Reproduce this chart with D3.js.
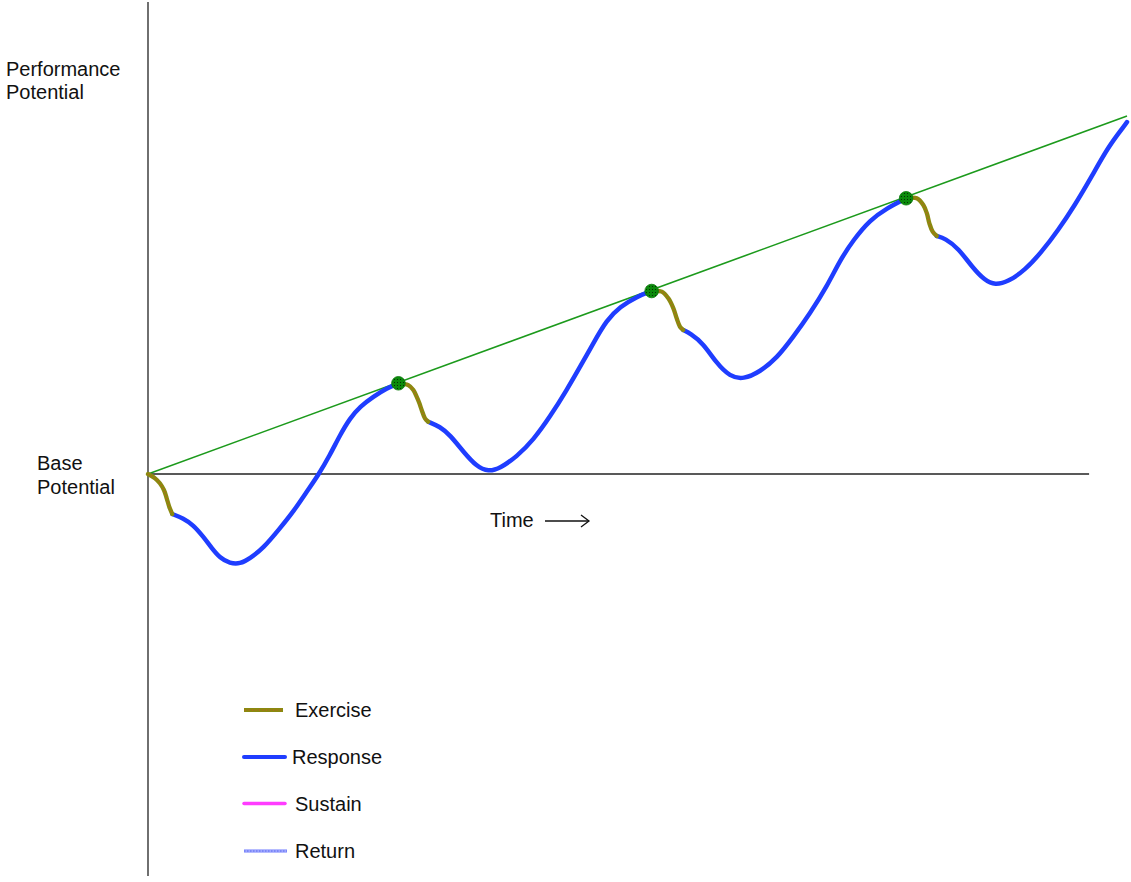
<!DOCTYPE html>
<html>
<head>
<meta charset="utf-8">
<script src="https://cdn.jsdelivr.net/npm/d3@7"></script>
<style>
  html, body { margin: 0; padding: 0; background: #fff; }
  svg text { font-family: Arial, "Liberation Sans", sans-serif; fill: #111; }
</style>
</head>
<body>
<svg id="chart" width="1131" height="882"></svg>
<script>
// ---- data (time in cycles, performance in units above base) ----
const exercise0 = [[0,0],[0.028,-0.047],[0.047,-0.101],[0.063,-0.174],[0.074,-0.264],[0.084,-0.355],[0.096,-0.435]];
const response0 = [[0.096,-0.435],[0.140,-0.482],[0.179,-0.554],[0.219,-0.682],[0.252,-0.804],[0.285,-0.913],[0.324,-0.971],[0.364,-0.978],[0.404,-0.916],[0.456,-0.808],[0.522,-0.590],[0.575,-0.410],[0.628,-0.192],[0.674,-0.011],[0.720,0.207],[0.760,0.424],[0.799,0.605],[0.839,0.732],[0.892,0.840],[0.945,0.932],[0.991,0.986]];
const exercise1 = [[0.991,0.986],[1.030,0.967],[1.050,0.913],[1.063,0.840],[1.074,0.768],[1.083,0.696],[1.096,0.605],[1.109,0.568]];
const response1 = [[1.109,0.568],[1.156,0.514],[1.195,0.424],[1.248,0.242],[1.301,0.079],[1.347,0.025],[1.393,0.062],[1.459,0.188],[1.525,0.370],[1.591,0.623],[1.657,0.913],[1.710,1.166],[1.762,1.421],[1.815,1.674],[1.868,1.818],[1.934,1.927],[1.993,1.989]];
const exercise2 = [[1.993,1.989],[2.033,1.982],[2.059,1.910],[2.079,1.801],[2.092,1.692],[2.105,1.601],[2.118,1.565]];
const response2 = [[2.118,1.565],[2.145,1.529],[2.197,1.421],[2.250,1.203],[2.303,1.058],[2.356,1.029],[2.422,1.112],[2.488,1.258],[2.554,1.492],[2.620,1.747],[2.686,2.036],[2.739,2.326],[2.791,2.543],[2.857,2.761],[2.923,2.888],[3.000,2.997]];
const exercise3 = [[3.000,2.997],[3.042,2.997],[3.068,2.924],[3.082,2.834],[3.092,2.725],[3.105,2.634],[3.121,2.587]];
const response3 = [[3.121,2.587],[3.154,2.562],[3.207,2.453],[3.260,2.253],[3.312,2.101],[3.352,2.054],[3.404,2.090],[3.471,2.217],[3.537,2.416],[3.602,2.652],[3.668,2.924],[3.734,3.232],[3.800,3.558],[3.866,3.793],[3.874,3.826]];
const trendLine = [[0,0],[3.874,3.891]];
const peaks = [[0.991,0.986],[1.993,1.989],[3.000,2.997]];
const legendLabels = ["Exercise","Response","Sustain","Return"];
const axisLabels = {perf:["Performance","Potential"], base:["Base","Potential"], time:"Time"};
const timeExtent = [0, 3.724];
const perfExtent = [-4.37, 5.13];

// ---- drawing ----
const svg = d3.select("#chart");
const x = d3.scaleLinear().domain([0, 3.874]).range([148, 1127]);
const y = d3.scaleLinear().domain([0, 1]).range([474, 382]);

const defs = svg.append("defs");
const pat = defs.append("pattern").attr("id","dotfill").attr("patternUnits","userSpaceOnUse")
  .attr("width",3).attr("height",3);
pat.append("rect").attr("width",3).attr("height",3).attr("fill","#0b8a0b");
pat.append("rect").attr("x",1).attr("y",1).attr("width",1).attr("height",1).attr("fill","#053005");

// axes
svg.append("line").attr("x1",x(0)).attr("x2",x(0)).attr("y1",y(perfExtent[1])).attr("y2",y(perfExtent[0]))
  .attr("stroke","#222").attr("stroke-width",1.3);
svg.append("line").attr("x1",x(timeExtent[0])).attr("x2",x(timeExtent[1])).attr("y1",y(0)).attr("y2",y(0))
  .attr("stroke","#222").attr("stroke-width",1.3);

const line = d3.line().x(d=>x(d[0])).y(d=>y(d[1])).curve(d3.curveBasis);
const lineEx = d3.line().x(d=>x(d[0])).y(d=>y(d[1])).curve(d3.curveCatmullRom.alpha(0.5));

// trend line
svg.append("path").attr("d", d3.line().x(d=>x(d[0])).y(d=>y(d[1]))(trendLine))
  .attr("fill","none").attr("stroke","#1c9a1c").attr("stroke-width",1.6);

// responses
[response0,response1,response2,response3].forEach(r=>{
  svg.append("path").attr("d",line(r)).attr("fill","none").attr("stroke","#1f3dff")
    .attr("stroke-width",4.5).attr("stroke-linecap","round").attr("stroke-linejoin","round");
});
// exercises
[exercise0,exercise1,exercise2,exercise3].forEach(e=>{
  svg.append("path").attr("d",lineEx(e)).attr("fill","none").attr("stroke","#8a8a10")
    .attr("stroke-width",4.3).attr("stroke-linecap","round");
  svg.append("path").attr("d",lineEx(e)).attr("fill","none").attr("stroke","#c0601a")
    .attr("stroke-width",1.4).attr("stroke-dasharray","1,2.5");
});
// peak markers
svg.selectAll("circle.peak").data(peaks).enter().append("circle").attr("class","peak")
  .attr("cx",d=>x(d[0])).attr("cy",d=>y(d[1])).attr("r",6.8)
  .attr("fill","url(#dotfill)").attr("stroke","#0a7a0a").attr("stroke-width",0.8);

// axis labels
function multi(lines, tx, ty, dy){
  const t = svg.append("text").attr("x",tx).attr("y",ty).attr("font-size",20);
  lines.forEach((s,i)=>t.append("tspan").attr("x",tx).attr("dy", i===0?0:dy).text(s));
}
multi(axisLabels.perf, 6, 76, 23);
multi(axisLabels.base, 37, 470, 24);
svg.append("text").attr("x",490).attr("y",527).attr("font-size",20).text(axisLabels.time);
svg.append("line").attr("x1",545).attr("x2",589).attr("y1",521).attr("y2",521).attr("stroke","#111").attr("stroke-width",1.3);
svg.append("path").attr("d","M581,515 L589,521 L581,527").attr("fill","none").attr("stroke","#111").attr("stroke-width",1.3);

// legend
const legY = [710, 757, 804, 851];
const legTextX = [295, 292, 295, 295];
const lg = svg.append("g");
legendLabels.forEach((lab,i)=>{
  const yy = legY[i];
  if(i===0){
    lg.append("line").attr("x1",244).attr("x2",283).attr("y1",yy).attr("y2",yy).attr("stroke","#8a8a10").attr("stroke-width",4);
    lg.append("line").attr("x1",245).attr("x2",282).attr("y1",yy).attr("y2",yy).attr("stroke","#c0601a").attr("stroke-width",1.3).attr("stroke-dasharray","1,2.5");
  } else if(i===1){
    lg.append("line").attr("x1",244).attr("x2",285).attr("y1",yy).attr("y2",yy).attr("stroke","#1f3dff").attr("stroke-width",4).attr("stroke-linecap","round");
  } else if(i===2){
    lg.append("line").attr("x1",244).attr("x2",285).attr("y1",yy-0.5).attr("y2",yy-0.5).attr("stroke","#ff3cff").attr("stroke-width",3.5).attr("stroke-linecap","round");
  } else {
    lg.append("line").attr("x1",244).attr("x2",287).attr("y1",yy).attr("y2",yy).attr("stroke","#9ea6ff").attr("stroke-width",3.5);
    lg.append("line").attr("x1",244).attr("x2",287).attr("y1",yy).attr("y2",yy).attr("stroke","#5868f0").attr("stroke-width",1.2).attr("stroke-dasharray","1.5,1.5");
  }
  lg.append("text").attr("x",legTextX[i]).attr("y",yy+7).attr("font-size",20).text(lab);
});
</script>
</body>
</html>
